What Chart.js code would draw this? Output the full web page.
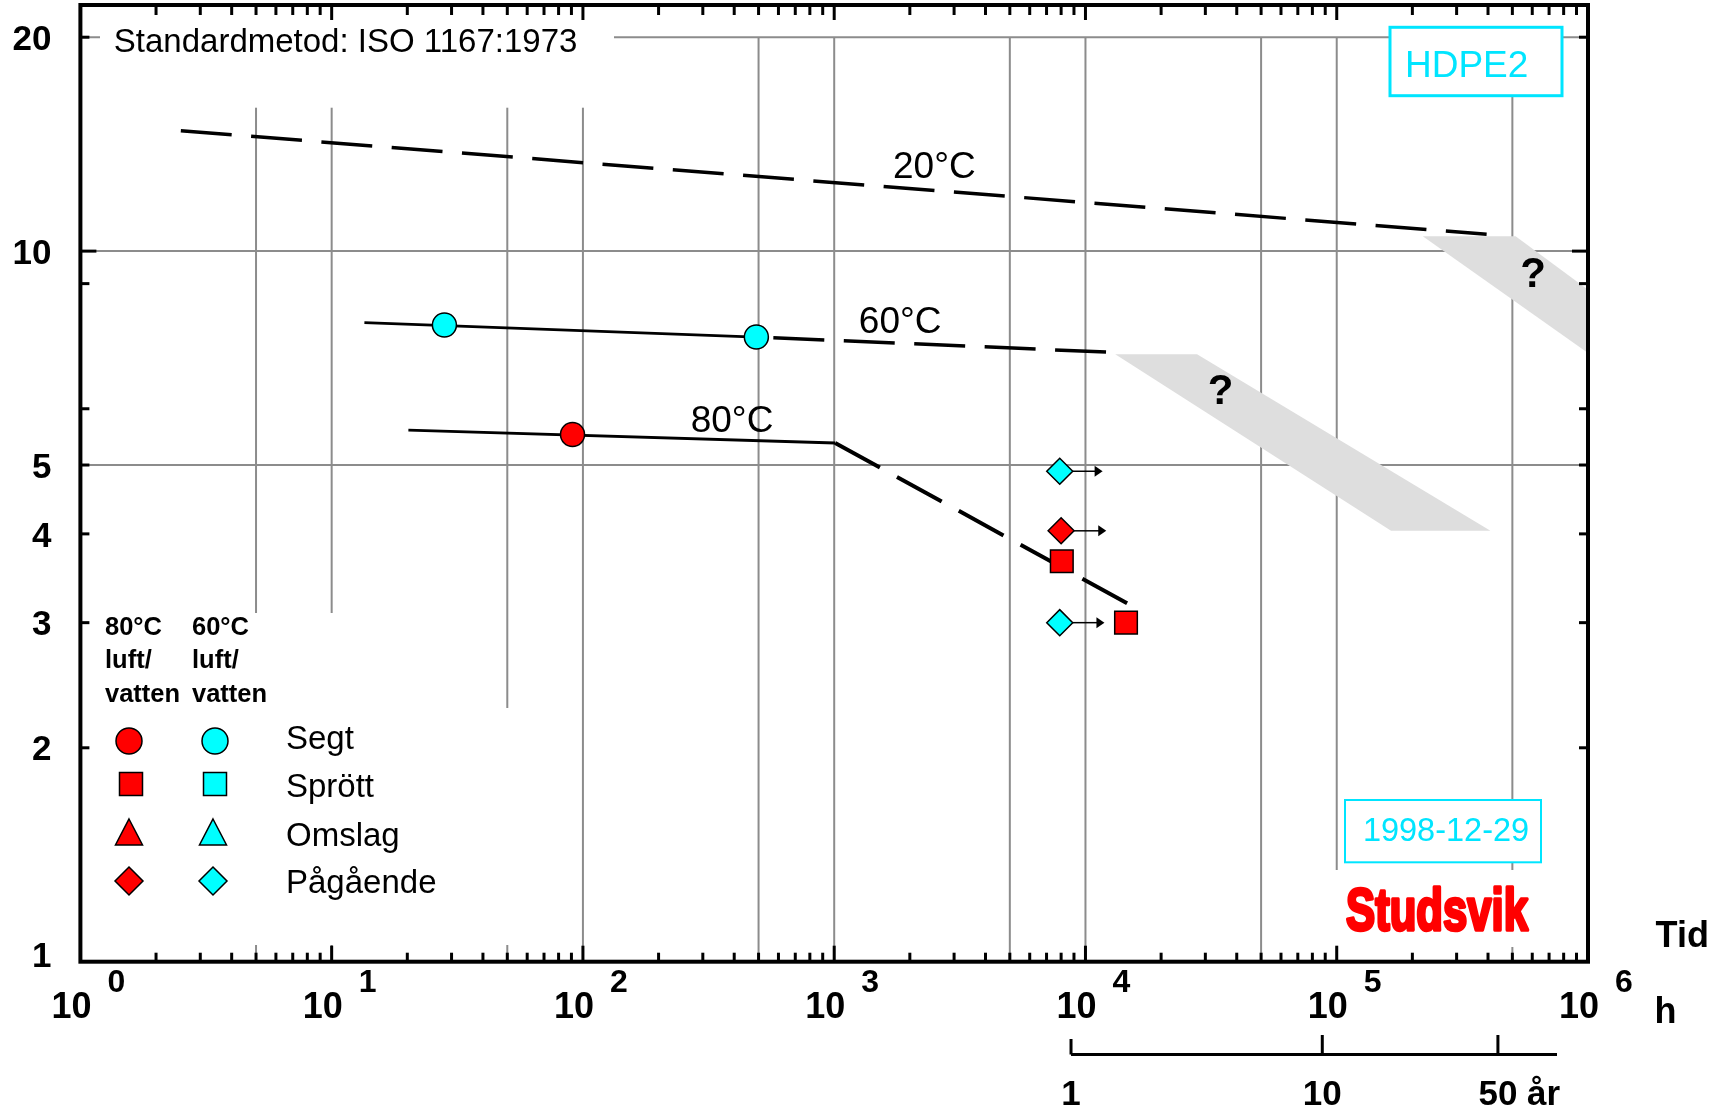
<!DOCTYPE html>
<html>
<head>
<meta charset="utf-8">
<script src="https://cdn.jsdelivr.net/npm/chart.js@4.4.0/dist/chart.umd.min.js"></script>
<style>
  html, body { margin: 0; padding: 0; background: #ffffff; overflow: hidden; }
  canvas { display: block; }
</style>
</head>
<body>
<canvas id="c" width="1716" height="1113"></canvas>
<script>
// ---------- data ----------
const xDecades   = [1, 10, 100, 1000, 10000, 100000, 1000000];
const xExponents = ['0', '1', '2', '3', '4', '5', '6'];
const xGridValues = [5, 10, 50, 100, 500, 1000, 5000, 10000, 50000, 100000, 500000];
const yGridValues = [5, 10, 20];
const yTickValues = [2, 3, 4, 5, 6, 9, 10, 20];
const yTickLabels = [1, 2, 3, 4, 5, 10, 20];
const yearTicks  = [1, 10, 50];
const yearLabels = ['1', '10', '50'];
const yearUnit = 'år';
const hoursPerYear = 8760;

// curves: [time h, stress MPa]
const line20       = [[2.51, 14.77], [395000, 10.56]];
const line60Solid  = [[13.5, 7.93], [490, 7.57]];
const line60Dashed = [[490, 7.57], [13100, 7.20]];
const line80Solid  = [[20.2, 5.60], [1009, 5.37]];
const line80Dashed = [[1009, 5.37], [15000, 3.18]];

// measured points
const cyanCircles  = [[28.1, 7.87], [490, 7.57]];
const redCircles   = [[90.9, 5.52]];
const redSquares   = [[8050, 3.66], [14500, 3.0]];
const redDiamonds  = [[8000, 4.04]];
const cyanDiamonds = [[7900, 4.9], [7900, 3.0]];
// ongoing tests: [start h, stress, arrow tip h]
const arrows = [[7900, 4.9, 11700], [8000, 4.04, 12100], [7900, 3.0, 11900]];

// uncertainty bands ("?")
const band20 = [[220000, 10.49], [515000, 10.49], [1000000, 8.82], [1000000, 7.19]];
const band60 = [[13140, 7.16], [27800, 7.16], [409000, 4.04], [164500, 4.04]];

// ---------- drawing ----------
const F = "'Liberation Sans', Arial, Helvetica, sans-serif";
const RED = '#ff0000', CYAN = '#00ffff', BOXCYAN = '#00e5ff';
const pts = arr => arr.map(([x, y]) => ({ x, y }));

function shape(ctx, type, cx, cy, s, fill) {
  ctx.save();
  ctx.fillStyle = fill; ctx.strokeStyle = '#000'; ctx.lineWidth = 1.5;
  ctx.beginPath();
  if (type === 'circle') ctx.arc(cx, cy, s, 0, Math.PI * 2);
  else if (type === 'rect') ctx.rect(cx - s, cy - s, 2 * s, 2 * s);
  else if (type === 'tri') { ctx.moveTo(cx, cy - s); ctx.lineTo(cx + s * 1.04, cy + s); ctx.lineTo(cx - s * 1.04, cy + s); ctx.closePath(); }
  else if (type === 'dia') { ctx.moveTo(cx, cy - s); ctx.lineTo(cx + s, cy); ctx.lineTo(cx, cy + s); ctx.lineTo(cx - s, cy); ctx.closePath(); }
  ctx.fill(); ctx.stroke();
  ctx.restore();
}

const decor = {
  id: 'decor',
  beforeDraw(chart) {
    const ctx = chart.ctx;
    ctx.save(); ctx.fillStyle = '#fff'; ctx.fillRect(0, 0, chart.width, chart.height); ctx.restore();
  },
  beforeDatasetsDraw(chart) {
    const { ctx, chartArea: a, scales: { x, y } } = chart;
    ctx.save();
    ctx.strokeStyle = '#8c8c8c'; ctx.lineWidth = 2;
    const y20 = y.getPixelForValue(20);
    xGridValues.forEach(v => {
      const px = x.getPixelForValue(v);
      ctx.beginPath(); ctx.moveTo(px, y20); ctx.lineTo(px, a.bottom); ctx.stroke();
    });
    yGridValues.forEach(v => {
      const py = y.getPixelForValue(v);
      ctx.beginPath(); ctx.moveTo(a.left, py); ctx.lineTo(a.right, py); ctx.stroke();
    });
    // white backgrounds of text blocks
    ctx.fillStyle = '#fff';
    ctx.fillRect(100, a.top + 2, 514, 107.7 - a.top - 2);
    ctx.fillRect(90, 613, 255, 945 - 613);
    ctx.fillRect(345, 708, 175, 945 - 708);
    ctx.fillRect(1328, 870, 232, 77);
    ctx.fillRect(1390, 27.3, 172, 68.4);
    ctx.fillRect(1345, 800, 196, 62.3);
    // bands
    ctx.fillStyle = '#dedede';
    [band20, band60].forEach(poly => {
      ctx.beginPath();
      poly.forEach(([vx, vy], i) => {
        const px = x.getPixelForValue(vx), py = y.getPixelForValue(vy);
        if (i) ctx.lineTo(px, py); else ctx.moveTo(px, py);
      });
      ctx.closePath(); ctx.fill();
    });
    ctx.restore();
  },
  afterDatasetsDraw(chart) {
    const { ctx, scales: { x, y } } = chart;
    ctx.save();
    ctx.strokeStyle = '#000'; ctx.fillStyle = '#000'; ctx.lineWidth = 1.5;
    arrows.forEach(([xs, yv, xe]) => {
      const p0 = x.getPixelForValue(xs) + 13, p1 = x.getPixelForValue(xe), py = y.getPixelForValue(yv);
      ctx.beginPath(); ctx.moveTo(p0, py); ctx.lineTo(p1 - 7, py); ctx.stroke();
      ctx.beginPath(); ctx.moveTo(p1, py); ctx.lineTo(p1 - 8, py - 5.5); ctx.lineTo(p1 - 8, py + 5.5); ctx.closePath(); ctx.fill();
    });
    ctx.restore();
  },
  afterDraw(chart) {
    const { ctx, chartArea: a, scales: { x, y } } = chart;
    ctx.save();
    // ticks
    ctx.strokeStyle = '#000'; ctx.lineWidth = 3;
    for (let k = 0; k < 6; k++) {
      for (let m = 1; m <= 9; m++) {
        if (k === 0 && m === 1) continue;
        const px = x.getPixelForValue(m * Math.pow(10, k));
        const len = m === 1 ? 16 : 9;
        ctx.beginPath(); ctx.moveTo(px, a.bottom); ctx.lineTo(px, a.bottom - len); ctx.stroke();
        ctx.beginPath(); ctx.moveTo(px, a.top); ctx.lineTo(px, a.top + (m === 1 ? 15 : 10)); ctx.stroke();
      }
    }
    yTickValues.forEach(v => {
      const py = y.getPixelForValue(v);
      const len = v === 10 ? 16 : 9;
      ctx.beginPath(); ctx.moveTo(a.left, py); ctx.lineTo(a.left + len, py); ctx.stroke();
      ctx.beginPath(); ctx.moveTo(a.right, py); ctx.lineTo(a.right - len, py); ctx.stroke();
    });
    // frame
    ctx.lineWidth = 4;
    ctx.strokeRect(a.left, a.top, a.right - a.left, a.bottom - a.top);

    // tick labels
    ctx.fillStyle = '#000';
    ctx.textBaseline = 'alphabetic';
    xDecades.forEach((v, i) => {
      const px = x.getPixelForValue(v);
      ctx.textAlign = 'center';
      ctx.font = `bold 36px ${F}`;
      ctx.fillText('10', px - 9, 1018);
      ctx.font = `bold 32px ${F}`;
      ctx.fillText(xExponents[i], px + 36, 991.5);
    });
    ctx.font = `bold 35px ${F}`;
    ctx.textAlign = 'right'; ctx.textBaseline = 'middle';
    yTickLabels.forEach(v => {
      const py = y.getPixelForValue(v);
      ctx.fillText(String(v), 51.5, py + (v === 1 ? -4 : 3));
    });

    // axis names
    ctx.textAlign = 'left'; ctx.textBaseline = 'alphabetic';
    ctx.font = `bold 36px ${F}`;
    ctx.fillText('Tid', 1655.6, 946.7);
    ctx.fillText('h', 1654.6, 1022.7);

    // years axis
    const yrPx = yearTicks.map(v => x.getPixelForValue(v * hoursPerYear));
    ctx.lineWidth = 3;
    ctx.beginPath(); ctx.moveTo(yrPx[0], 1054.5); ctx.lineTo(1557, 1054.5); ctx.stroke();
    yrPx.forEach((px, i) => {
      ctx.beginPath(); ctx.moveTo(px, 1054.5); ctx.lineTo(px, i === 0 ? 1039 : 1035); ctx.stroke();
    });
    ctx.font = `bold 35px ${F}`;
    ctx.textAlign = 'center';
    yearLabels.forEach((t, i) => ctx.fillText(t, yrPx[i], 1105));
    ctx.textAlign = 'left';
    ctx.fillText(yearUnit, 1527, 1105);

    // annotations
    ctx.font = `33px ${F}`;
    ctx.fillText('Standardmetod: ISO 1167:1973', 113.8, 51.7);
    ctx.font = `37px ${F}`;
    ctx.fillText('20°C', 893, 178.3);
    ctx.fillText('60°C', 858.8, 333.3);
    ctx.fillText('80°C', 690.7, 431.7);
    ctx.font = `bold 42px ${F}`;
    ctx.textAlign = 'center';
    ctx.fillText('?', 1533, 286.7);
    ctx.fillText('?', 1220.5, 404);

    // HDPE2 box
    ctx.strokeStyle = BOXCYAN; ctx.lineWidth = 3;
    ctx.strokeRect(1390, 27.3, 172, 68.4);
    ctx.fillStyle = BOXCYAN; ctx.textAlign = 'left';
    ctx.font = `37px ${F}`;
    ctx.fillText('HDPE2', 1405, 76.7);
    // date box
    ctx.lineWidth = 2;
    ctx.strokeRect(1345, 800, 196, 62.3);
    ctx.font = `32.5px ${F}`; ctx.textAlign = 'center';
    ctx.fillText('1998-12-29', 1446, 840.7);
    // logo
    ctx.save();
    ctx.font = `bold 60px 'Liberation Sans Narrow', 'Liberation Sans', Arial, sans-serif`;
    ctx.textAlign = 'left';
    const lw = ctx.measureText('Studsvik').width;
    ctx.translate(1346, 930);
    ctx.scale(182 / lw, 1);
    ctx.fillStyle = RED; ctx.strokeStyle = RED; ctx.lineWidth = 3.5; ctx.lineJoin = 'round';
    ctx.fillText('Studsvik', 0, 0);
    ctx.strokeText('Studsvik', 0, 0);
    ctx.restore();

    // legend
    ctx.fillStyle = '#000'; ctx.textAlign = 'left';
    ctx.font = `bold 25.5px ${F}`;
    [['80°C', 635], ['luft/', 668.3], ['vatten', 701.7]].forEach(([t, b]) => {
      ctx.fillText(t, 105, b);
    });
    [['60°C', 635], ['luft/', 668.3], ['vatten', 701.7]].forEach(([t, b]) => {
      ctx.fillText(t, 192, b);
    });
    shape(ctx, 'circle', 129, 741, 13, RED);
    shape(ctx, 'circle', 215, 741, 13, CYAN);
    shape(ctx, 'rect', 131, 784, 11.5, RED);
    shape(ctx, 'rect', 215, 784, 11.5, CYAN);
    shape(ctx, 'tri', 129, 832, 13, RED);
    shape(ctx, 'tri', 213, 832, 13, CYAN);
    shape(ctx, 'dia', 129, 881, 14, RED);
    shape(ctx, 'dia', 213, 881, 14, CYAN);
    ctx.fillStyle = '#000';
    ctx.font = `33px ${F}`;
    ctx.fillText('Segt', 286, 749.3);
    ctx.fillText('Sprött', 286, 796.7);
    ctx.fillText('Omslag', 286, 846);
    ctx.fillText('Pågående', 286, 893.3);
    ctx.restore();
  }
};

const lineDs = (label, data, width, dash, offset) => ({
  label, data: pts(data), showLine: true, fill: false, tension: 0,
  borderColor: '#000', borderWidth: width, borderDash: dash || [], borderDashOffset: offset || 0,
  borderCapStyle: 'butt', pointRadius: 0, pointHoverRadius: 0, order: 2
});
const markDs = (label, data, style, radius, color) => ({
  label, data: pts(data), showLine: false, pointStyle: style, pointRadius: radius,
  pointHoverRadius: radius, backgroundColor: color, borderColor: '#000', borderWidth: 1.5, order: 1
});

new Chart(document.getElementById('c'), {
  type: 'scatter',
  data: {
    datasets: [
      markDs('Segt 60°C', cyanCircles, 'circle', 12, CYAN),
      markDs('Segt 80°C', redCircles, 'circle', 12, RED),
      markDs('Sprött 80°C', redSquares, 'rect', 16, RED),
      markDs('Pågående 80°C', redDiamonds, 'rectRot', 13, RED),
      markDs('Pågående 60°C', cyanDiamonds, 'rectRot', 13, CYAN),
      lineDs('20°C', line20, 3.5, [51, 19.5], 0),
      lineDs('60°C', line60Solid, 2.8),
      lineDs('60°C extrapolerad', line60Dashed, 3.5, [51, 19.5], 53.5),
      lineDs('80°C', line80Solid, 2.8),
      lineDs('80°C extrapolerad', line80Dashed, 4, [51, 19.5], 0)
    ]
  },
  options: {
    responsive: false,
    devicePixelRatio: 1,
    animation: false,
    events: [],
    layout: { autoPadding: false, padding: { left: 80.4, right: 128, top: 5, bottom: 151.3 } },
    plugins: { legend: { display: false }, tooltip: { enabled: false } },
    scales: {
      x: { type: 'logarithmic', min: 1, max: 1000000, display: false },
      y: { type: 'logarithmic', min: 1, max: 22.2, display: false }
    }
  },
  plugins: [decor]
});
</script>
</body>
</html>
